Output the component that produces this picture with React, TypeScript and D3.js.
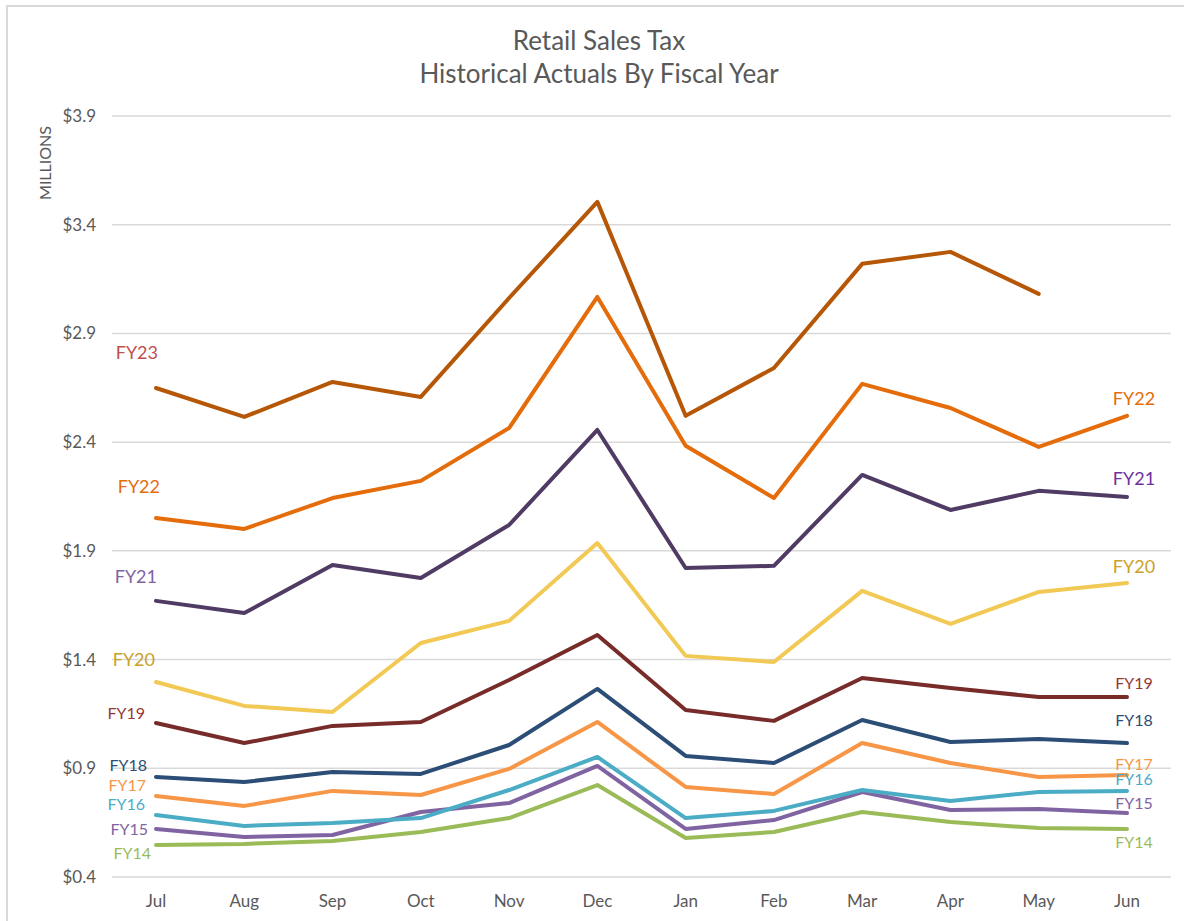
import React, { useEffect, useRef } from 'react';
import * as d3 from 'd3';

const months = ['Jul', 'Aug', 'Sep', 'Oct', 'Nov', 'Dec', 'Jan', 'Feb', 'Mar', 'Apr', 'May', 'Jun'];
const yTicks = [0.4, 0.9, 1.4, 1.9, 2.4, 2.9, 3.4, 3.9];

const fy23 = [2.649, 2.516, 2.677, 2.608, 3.063, 3.505, 2.521, 2.741, 3.22, 3.275, 3.082];
const fy22 = [2.051, 2.001, 2.143, 2.222, 2.465, 3.068, 2.383, 2.143, 2.668, 2.557, 2.378, 2.521];
const fy21 = [1.67, 1.614, 1.835, 1.775, 2.019, 2.456, 1.821, 1.831, 2.249, 2.088, 2.176, 2.148];
const fy20 = [1.297, 1.187, 1.159, 1.476, 1.578, 1.936, 1.417, 1.389, 1.716, 1.564, 1.711, 1.752];
const fy19 = [1.108, 1.016, 1.095, 1.113, 1.306, 1.513, 1.168, 1.118, 1.315, 1.269, 1.228, 1.228];
const fy18 = [0.86, 0.837, 0.883, 0.874, 1.007, 1.265, 0.957, 0.924, 1.122, 1.021, 1.035, 1.016];
const fy17 = [0.773, 0.727, 0.796, 0.777, 0.897, 1.113, 0.814, 0.782, 1.016, 0.924, 0.86, 0.869];
const fy16 = [0.685, 0.635, 0.648, 0.671, 0.8, 0.952, 0.671, 0.704, 0.8, 0.75, 0.791, 0.796];
const fy15 = [0.621, 0.584, 0.593, 0.699, 0.74, 0.911, 0.621, 0.662, 0.791, 0.708, 0.713, 0.694];
const fy14 = [0.547, 0.552, 0.566, 0.607, 0.671, 0.823, 0.579, 0.607, 0.699, 0.653, 0.625, 0.621];

// label anchors are in data units (value where the series name sits at each end)
const series = [
  { name: 'FY14', values: fy14, color: '#9bbb59', label: '#9bbb59', left: 0.508, right: 0.561 },
  { name: 'FY15', values: fy15, color: '#8064a2', label: '#8064a2', left: 0.62, right: 0.74 },
  { name: 'FY16', values: fy16, color: '#4bacc6', label: '#4bacc6', left: 0.736, right: 0.851 },
  { name: 'FY17', values: fy17, color: '#f79646', label: '#f79646', left: 0.819, right: 0.92 },
  { name: 'FY18', values: fy18, color: '#2c4d75', label: '#2c4d75', left: 0.915, right: 1.118 },
  { name: 'FY19', values: fy19, color: '#772c2a', label: '#953735', left: 1.154, right: 1.292 },
  { name: 'FY20', values: fy20, color: '#f2c955', label: '#c9a227', left: 1.398, right: 1.826 },
  { name: 'FY21', values: fy21, color: '#4f3b64', label: '#8064a2', left: 1.78, right: 2.231 },
  { name: 'FY22', values: fy22, color: '#e46c0a', label: '#e46c0a', left: 2.194, right: 2.599 },
  { name: 'FY23', values: fy23, color: '#b65708', label: '#c0504d', left: 2.81, right: null },
];
const rightLabelColors: Record<string, string> = { FY21: '#7030a0' };
// right edge of each left-hand label, px
const leftLabelEnd: Record<string, number> = {
  FY14: 151, FY15: 148, FY16: 145, FY17: 146, FY18: 147,
  FY19: 145, FY20: 155, FY21: 157, FY22: 160, FY23: 158,
};
const bigLabels = ['FY20', 'FY21', 'FY22', 'FY23'];

const App = () => {
  const svgRef = useRef<SVGSVGElement>(null);

  useEffect(() => {
    const width = 1184;
    const height = 921;
    const svg = d3.select(svgRef.current);
    svg.selectAll('*').remove();
    svg.attr('width', width).attr('height', height);

    const font = 'Lato, "Open Sans", sans-serif';
    const grey = '#595959';

    svg.append('rect')
      .attr('x', 7).attr('y', 6).attr('width', width + 20).attr('height', height + 20)
      .attr('fill', '#fff').attr('stroke', '#d9d9d9').attr('stroke-width', 2);

    const x = d3.scalePoint().domain(months).range([156, 1127]);
    const y = d3.scaleLinear().domain([0.4, 3.9]).range([877, 116]);

    // gridlines
    svg.append('g').selectAll('line')
      .data(yTicks)
      .enter().append('line')
      .attr('x1', 112).attr('x2', 1171)
      .attr('y1', d => y(d)).attr('y2', d => y(d))
      .attr('stroke', '#d9d9d9').attr('stroke-width', 1.5);

    svg.append('g').selectAll('text')
      .data(yTicks)
      .enter().append('text')
      .attr('x', 96).attr('y', d => y(d)).attr('dy', '0.35em')
      .attr('text-anchor', 'end')
      .attr('font-family', font).attr('font-size', 17).attr('fill', grey)
      .text(d => `$${d.toFixed(1)}`);

    svg.append('g').selectAll('text')
      .data(months)
      .enter().append('text')
      .attr('x', d => x(d) as number).attr('y', 901).attr('dy', '0.35em')
      .attr('text-anchor', 'middle')
      .attr('font-family', font).attr('font-size', 17).attr('fill', grey)
      .text(d => d);

    svg.append('text')
      .attr('transform', 'translate(51,163) rotate(-90)')
      .attr('text-anchor', 'middle')
      .attr('font-family', font).attr('font-size', 16).attr('fill', grey)
      .text('MILLIONS');

    svg.append('text')
      .attr('x', 599).attr('y', 50)
      .attr('text-anchor', 'middle')
      .attr('font-family', font).attr('font-size', 26).attr('fill', grey)
      .text('Retail Sales Tax');
    svg.append('text')
      .attr('x', 599).attr('y', 83)
      .attr('text-anchor', 'middle')
      .attr('font-family', font).attr('font-size', 26).attr('fill', grey)
      .text('Historical Actuals By Fiscal Year');

    const line = d3.line<number>()
      .x((d, i) => x(months[i]) as number)
      .y(d => y(d));

    const lines = svg.append('g');
    series.forEach(s => {
      lines.append('path')
        .datum(s.values)
        .attr('d', line)
        .attr('fill', 'none')
        .attr('stroke', s.color)
        .attr('stroke-width', 4)
        .attr('stroke-linejoin', 'round')
        .attr('stroke-linecap', 'round');
    });

    const labels = svg.append('g').attr('font-family', font);
    series.forEach(s => {
      const size = bigLabels.includes(s.name) ? 18 : 16;
      labels.append('text')
        .attr('x', leftLabelEnd[s.name]).attr('y', y(s.left)).attr('dy', '0.35em')
        .attr('text-anchor', 'end')
        .attr('font-size', size)
        .attr('fill', s.label)
        .text(s.name);
      if (s.right !== null) {
        labels.append('text')
          .attr('x', 1134).attr('y', y(s.right)).attr('dy', '0.35em')
          .attr('text-anchor', 'middle')
          .attr('font-size', size)
          .attr('fill', rightLabelColors[s.name] || s.label)
          .text(s.name);
      }
    });
  }, []);

  return <svg ref={svgRef} style={{ position: 'absolute', left: 0, top: 0 }}></svg>;
};

export default App;
